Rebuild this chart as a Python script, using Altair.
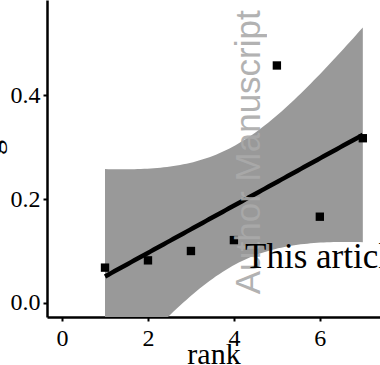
import altair as alt
import numpy as np
import pandas as pd

# data
rank = [1, 2, 3, 4, 5, 6, 7]
score = [0.068, 0.082, 0.100, 0.121, 0.457, 0.166, 0.317]
x_ticks = [0, 2, 4, 6]
y_ticks = [0.0, 0.2, 0.4]

# linear fit with 95% confidence band (as geom_smooth(method="lm"))
x = np.array(rank, dtype=float)
y = np.array(score, dtype=float)
n = len(x)
slope, intercept = np.polyfit(x, y, 1)
resid = y - (slope * x + intercept)
s = np.sqrt(np.sum(resid ** 2) / (n - 2))
sxx = np.sum((x - x.mean()) ** 2)
t_crit = 2.5706  # t(0.975, df=5)
grid = np.linspace(x.min(), x.max(), 80)
fit = slope * grid + intercept
se = s * np.sqrt(1.0 / n + (grid - x.mean()) ** 2 / sxx)
band = pd.DataFrame({"rank": grid, "fit": fit, "lo": fit - t_crit * se, "hi": fit + t_crit * se})
pts = pd.DataFrame({"rank": rank, "score": score})

xs = alt.Scale(domain=[-0.35, 7.4], nice=False, zero=False)
ys = alt.Scale(domain=[-0.027, 0.583], nice=False, zero=False)

xax = alt.Axis(values=x_ticks, format="d", title="rank", grid=False,
               domainColor="black", domainWidth=2.5, tickColor="black", tickWidth=2, tickSize=4,
               labelFont="Liberation Serif", labelFontSize=24, labelColor="black", labelPadding=5,
               titleFont="Liberation Serif", titleFontSize=30, titleFontWeight="normal",
               titleColor="black", titleBaseline="alphabetic", titleY=46)
yax = alt.Axis(values=y_ticks, format=".1f", title="g", grid=False,
               domainColor="black", domainWidth=2.5, tickColor="black", tickWidth=2, tickSize=4,
               labelFont="Liberation Serif", labelFontSize=24, labelColor="black", labelPadding=3,
               titleFont="Liberation Serif", titleFontSize=30, titleFontWeight="normal",
               titleColor="black", titleAngle=-90, titleBaseline="alphabetic",
               titleX=-47, titleY=147)

base = alt.Chart(band)
area = base.mark_area(color="#999999", clip=True).encode(
    x=alt.X("rank:Q", scale=xs, axis=xax),
    y=alt.Y("lo:Q", scale=ys, axis=yax),
    y2="hi:Q",
)
line = base.mark_line(color="black", strokeWidth=4.5, clip=True).encode(
    x=alt.X("rank:Q", scale=xs),
    y=alt.Y("fit:Q", scale=ys),
)
points = alt.Chart(pts).mark_square(color="black", opacity=1, size=70).encode(
    x=alt.X("rank:Q", scale=xs),
    y=alt.Y("score:Q", scale=ys),
)

wm1 = pd.DataFrame({"rank": [4.6], "score": [0.29], "label": ["Author Manuscript"]})
wm2 = pd.DataFrame({"rank": [4.26], "score": [0.067],
                    "label": ["This article is protected by copyright. All rights reserved"]})
author = alt.Chart(wm1).mark_text(angle=270, align="center", baseline="alphabetic",
                                  font="Liberation Sans", fontSize=35, color="#aaaaaa",
                                  opacity=0.9).encode(
    x=alt.X("rank:Q", scale=xs), y=alt.Y("score:Q", scale=ys), text="label:N")
article = alt.Chart(wm2).mark_text(align="left", baseline="alphabetic", clip=True,
                                   font="Liberation Serif", fontSize=35, color="black").encode(
    x=alt.X("rank:Q", scale=xs), y=alt.Y("score:Q", scale=ys), text="label:N")

chart = alt.layer(area, line, points, author, article).properties(
    width=333, height=317,
    autosize=alt.AutoSizeParams(type="none"),
    padding={"left": 47, "top": 0, "right": 0, "bottom": 48},
    background="white",
).configure_view(stroke=None)

chart.save("out.html", embed_options={"renderer": "svg", "actions": False})
